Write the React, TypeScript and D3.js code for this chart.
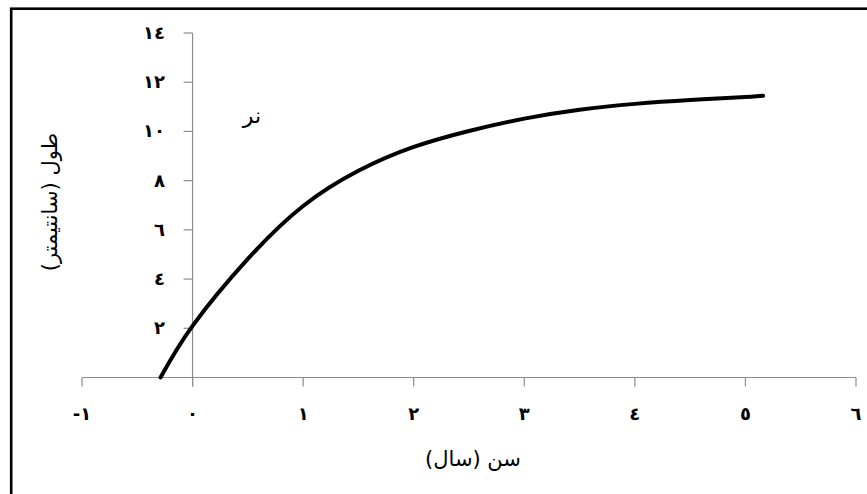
import React from 'react';
import * as d3 from 'd3';

// age (years) and length (cm)
const ages = [-0.29, 0, 0.5, 1, 1.5, 2, 2.5, 3, 3.5, 4, 4.5, 5, 5.16];
const lengths = [0, 2.1, 4.82, 6.97, 8.4, 9.37, 10.02, 10.52, 10.88, 11.12, 11.28, 11.4, 11.45];

const xTicks = [-1, 0, 1, 2, 3, 4, 5, 6];
const xTickLabels = ['-١', '٠', '١', '٢', '٣', '٤', '٥', '٦'];
const yTicks = [2, 4, 6, 8, 10, 12, 14];
const yTickLabels = ['٢', '٤', '٦', '٨', '١٠', '١٢', '١٤'];

const xTitle = 'سن (سال)';
const yTitle = 'طول (سانتیمتر)';
const seriesLabel = 'نر';

const W = 867;
const H = 494;

const App = () => {
  const x = d3.scaleLinear().domain([-1, 6]).range([82, 856]);
  const y = d3.scaleLinear().domain([0, 14]).range([377.5, 33]);

  const points: [number, number][] = ages.map((a, i) => [a, lengths[i]]);
  const line = d3
    .line<[number, number]>()
    .x((d) => x(d[0]))
    .y((d) => y(d[1]))
    .curve(d3.curveNatural);

  const axisColor = '#8c8c8c';
  const font = '"DejaVu Sans", sans-serif';

  return (
    <svg
      width={W}
      height={H}
      style={{ position: 'absolute', left: 0, top: 0, background: '#fff' }}
    >
      {/* chart frame, runs off the right and bottom edge */}
      <rect x={11.2} y={8.7} width={W} height={H} fill='#fff' stroke='#000' strokeWidth={2.6} />

      {/* x axis */}
      <line x1={x(-1)} x2={x(6)} y1={y(0)} y2={y(0)} stroke={axisColor} strokeWidth={1.2} />
      {xTicks.map((t, i) => (
        <g key={'xt' + t}>
          <line x1={x(t)} x2={x(t)} y1={y(0)} y2={y(0) + 9} stroke={axisColor} strokeWidth={1.2} />
          <text
            x={x(t)}
            y={420}
            textAnchor='middle'
            direction='ltr'
            fontFamily={font}
            fontWeight='bold'
            fontSize={18}
            fill='#000'
          >
            {xTickLabels[i]}
          </text>
        </g>
      ))}

      {/* y axis sits on age 0 */}
      <line x1={x(0)} x2={x(0)} y1={y(0) + 9} y2={y(14)} stroke={axisColor} strokeWidth={1.2} />
      {yTicks.map((t, i) => (
        <g key={'yt' + t}>
          <line x1={x(0) - 9} x2={x(0)} y1={y(t)} y2={y(t)} stroke={axisColor} strokeWidth={1.2} />
          <text
            x={165}
            y={y(t) + 6}
            textAnchor='end'
            direction='ltr'
            fontFamily={font}
            fontWeight='bold'
            fontSize={18}
            fill='#000'
          >
            {yTickLabels[i]}
          </text>
        </g>
      ))}

      <path d={line(points) || ''} fill='none' stroke='#000' strokeWidth={4} strokeLinecap='round' />

      <text x={252} y={123} textAnchor='middle' fontFamily={font} fontSize={22} fill='#000'>
        {seriesLabel}
      </text>

      <text x={473} y={466} textAnchor='middle' fontFamily={font} fontSize={21} fill='#000'>
        {xTitle}
      </text>

      <text
        transform='translate(57, 202) rotate(-90)'
        textAnchor='middle'
        fontFamily={font}
        fontSize={21}
        fill='#000'
      >
        {yTitle}
      </text>
    </svg>
  );
};

export default App;
